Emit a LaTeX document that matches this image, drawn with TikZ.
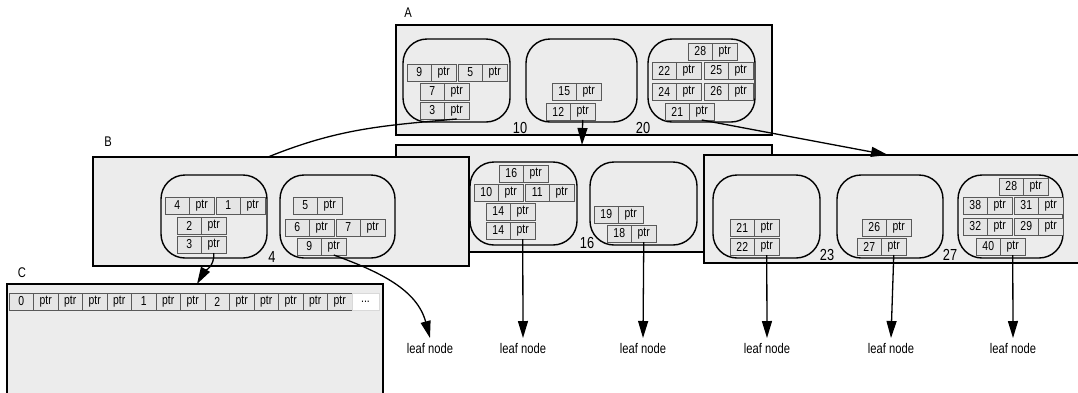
\documentclass[tikz,border=0pt]{standalone}
\usepackage{fontspec}
\setmainfont{Liberation Sans}[FakeStretch=0.8]
\usetikzlibrary{arrows.meta}

% key cell followed by its ptr cell
\newcommand{\kp}[3]{%
  \node[cell] (#1) at (#2) {#3};
  \node[cell, anchor=west] (#1p) at (#1.east) {ptr};}

\begin{document}
\begin{tikzpicture}[
    x=1pt, y=-1pt,
    blk/.style={draw=black, line width=1.4pt, fill=gray!15,
                anchor=north west, inner sep=0, outer sep=0},
    grp/.style={draw=black, line width=1.4pt, fill=gray!15,
                rounded corners=24pt, anchor=north west,
                minimum height=83pt, inner sep=0, outer sep=0},
    cell/.style={draw=black!65, line width=0.9pt, fill=gray!20,
                 anchor=north west, minimum width=24.5pt,
                 minimum height=17pt, inner sep=0, outer sep=0,
                 font=\fontsize{13}{14}\selectfont},
    dots/.style={cell, draw=black!15, fill=white, minimum width=27pt},
    tag/.style={font=\fontsize{14}{16}\selectfont},
    num/.style={font=\fontsize{16}{18}\selectfont},
    leaf/.style={font=\fontsize{14}{16}\selectfont, anchor=north,
                 inner sep=5pt},
    link/.style={line width=1.3pt},
    arr/.style={link, -{Triangle[length=17pt, width=10pt]}},
]

\path[use as bounding box, clip] (0,0) rectangle (1078,392);

% Level A
\node[tag] (labA) at (408,13) {A};
\node[blk, minimum width=376pt, minimum height=110pt] (boxA) at (396,25) {};
\node[grp, minimum width=107pt] (ga1) at (403,39) {};
\node[grp, minimum width=111pt] (ga2) at (526,39) {};
\node[grp, minimum width=107pt] (ga3) at (648,39) {};
\kp{a9}{407,64}{9}   \kp{a5}{458,64}{5}
\kp{a7}{420,83}{7}   \kp{a3}{420,102}{3}
\kp{a15}{552,83}{15} \kp{a12}{546,103}{12}
\kp{a28}{688,43}{28}
\kp{a22}{652,62}{22} \kp{a25}{704,62}{25}
\kp{a24}{652,83}{24} \kp{a26}{704,83}{26}
\kp{a21}{665,103}{21}
\node[num] (n10) at (520,128) {10};
\node[num] (n20) at (643,128) {20};

% Level B -- middle box sits behind B and the right box
\node[blk, minimum width=376pt, minimum height=107pt] (boxM) at (396,145) {};
\node[grp, minimum width=107pt] (gm1) at (470,162) {};
\node[grp, minimum width=107pt] (gm2) at (590,162) {};
\kp{m16}{499,165}{16}
\kp{m10}{474,184}{10} \kp{m11}{525,184}{11}
\kp{m14a}{486,203}{14} \kp{m14b}{486,222}{14}
\kp{m19}{594,206}{19} \kp{m18}{607,225}{18}
\node[num] (n16) at (587,243) {16};

\node[tag] (labB) at (108,142) {B};
\node[blk, minimum width=376pt, minimum height=109pt] (boxB) at (93,157) {};
\node[grp, minimum width=106pt] (gb1) at (161,175) {};
\node[grp, minimum width=115pt] (gb2) at (280,175) {};
\kp{b4}{165,197}{4}  \kp{b1}{216,197}{1}
\kp{b2}{177,217}{2}  \kp{b3}{177,236}{3}
\kp{b5}{293,197}{5}
\kp{b6}{285,219}{6}  \kp{b7}{336,219}{7}
\kp{b9}{297,238}{9}
\node[num] (n4) at (272,257) {4};

\node[blk, minimum width=400pt, minimum height=108pt] (boxR) at (704,155) {};
\node[grp, minimum width=107pt] (gr1) at (713,175) {};
\node[grp, minimum width=106pt] (gr2) at (837,175) {};
\node[grp, minimum width=105pt] (gr3) at (958,175) {};
\kp{r21}{730,219}{21} \kp{r22}{730,238}{22}
\kp{r26}{862,219}{26} \kp{r27}{857,238}{27}
\kp{r28}{999,178}{28}
\kp{r38}{963,197}{38} \kp{r31}{1014,197}{31}
\kp{r32}{963,218}{32} \kp{r29}{1014,218}{29}
\kp{r40}{976,238}{40}
\node[num] (n23) at (827,255) {23};
\node[num] (n27) at (950,255) {27};

% Level C
\node[tag] (labC) at (22,273) {C};
\node[blk, minimum width=376pt, minimum height=150pt] (boxC) at (7,284) {};
\foreach \t [count=\i] in {0,ptr,ptr,ptr,ptr,1,ptr,ptr,2,ptr,ptr,ptr,ptr,ptr}
  \node[cell] (c\i) at ({9+(\i-1)*24.5},293) {\t};
\node[dots] (c15) at (352,293) {...};

% Leaf nodes
\node[leaf] (leaf1) at (430,338) {leaf node};
\node[leaf] (leaf2) at (523,338) {leaf node};
\node[leaf] (leaf3) at (643,338) {leaf node};
\node[leaf] (leaf4) at (767,338) {leaf node};
\node[leaf] (leaf5) at (891,338) {leaf node};
\node[leaf] (leaf6) at (1013,338) {leaf node};

% Entry points on box tops
\coordinate (inB) at (268,157);
\coordinate (inM) at (582,145);
\coordinate (inR) at (888,155);
\coordinate (inC) at (197,284);

% Pointers
\draw[link] (a3p.south) to[out=185, in=22] (inB);
\draw[arr] (a12p.south) -- (inM);
\draw[arr] (a21p.south) -- (inR);
\draw[arr] (b3p.south) to[out=-85, in=60] (inC);
\draw[arr] (b9p.south) to[out=-20, in=105] (leaf1.north);
\draw[arr] (m14bp.south) -- (leaf2.north);
\draw[arr] (m18p.south) -- (leaf3.north);
\draw[arr] (r22p.south) -- (leaf4.north);
\draw[arr] (r27p.south) -- (leaf5.north);
\draw[arr] (r40p.south) -- (leaf6.north);

\end{tikzpicture}
\end{document}
